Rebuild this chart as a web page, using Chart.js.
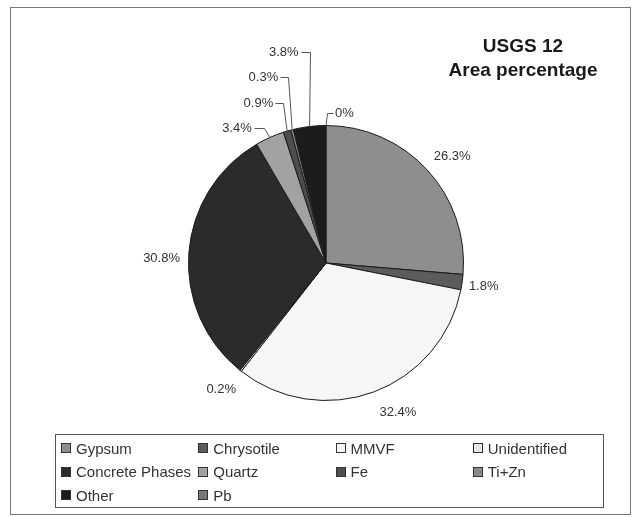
<!DOCTYPE html>
<html>
<head>
<meta charset="utf-8">
<script src="https://cdn.jsdelivr.net/npm/chart.js@4.4.1/dist/chart.umd.min.js"></script>
<style>
  html, body { margin: 0; padding: 0; background: #ffffff; }
  #wrap { position: relative; width: 633px; height: 517px; overflow: hidden; }
  #frame { position: absolute; left: 10px; top: 7px; width: 621px; height: 508px;
           border: 1px solid #777; box-sizing: border-box; }
  #c { position: absolute; left: 0; top: 0; }
  #legend { position: absolute; left: 55px; top: 434px; width: 549px; height: 74px;
            border: 1px solid #555; box-sizing: border-box;
            font: 15px "Liberation Sans", Arial, sans-serif; color: #333; }
  .item { position: absolute; height: 20px; display: flex; align-items: center; white-space: nowrap; }
  .sw { width: 8px; height: 8px; border: 1px solid #333; margin-right: 5px; flex: none; }
</style>
</head>
<body>
<div id="wrap">
  <div id="frame"></div>
  <canvas id="c" width="633" height="517"></canvas>
  <div id="legend"></div>
</div>
<script>
// Phase composition by area
const categories = ['Gypsum', 'Chrysotile', 'MMVF', 'Unidentified', 'Concrete Phases',
                    'Quartz', 'Fe', 'Ti+Zn', 'Other', 'Pb'];
const areaPercent = [26.3, 1.8, 32.4, 0.2, 30.8, 3.4, 0.9, 0.3, 3.8, 0];
const titleLines = ['USGS 12', 'Area percentage'];

// Grey fills for each phase
const sliceColors = ['#8e8e8e', '#5c5c5c', '#f6f6f6', '#e6e6e6', '#2b2b2b',
                     '#a2a2a2', '#4d4d4d', '#8a8a8a', '#1c1c1c', '#7a7a7a'];

// Label placement: free labels sit outside the rim, thin slices get a leader line
const labelGap = [28, 22, 28, 27, 27];          // px beyond the rim
const labelNudge = [2.3, 0.6, -5.4, 1.2, -2.5];  // degrees along the rim
const leaders = {
  5: { lean: -6, rise: 9.5, arm: 10, side: -1 },
  6: { lean: -4, rise: 28, arm: 8, side: -1 },
  7: { lean: -4, rise: 52.5, arm: 8, side: -1 },
  8: { lean: 0, rise: 74, arm: 9, side: -1 },
  9: { lean: 1, rise: 12.5, arm: 6, side: 1 }
};

const px = v => Math.round(v) + 0.5;

const sliceLabels = {
  id: 'sliceLabels',
  afterDatasetsDraw(chart) {
    const ctx = chart.ctx;
    const meta = chart.getDatasetMeta(0);
    ctx.save();
    ctx.font = '13px "Liberation Sans", Arial, sans-serif';
    ctx.fillStyle = '#333';
    ctx.strokeStyle = '#555';
    ctx.lineWidth = 1;
    ctx.textBaseline = 'middle';
    meta.data.forEach((arc, i) => {
      const p = arc.getProps(['x', 'y', 'startAngle', 'endAngle', 'outerRadius'], true);
      const mid = (p.startAngle + p.endAngle) / 2;
      const text = areaPercent[i] + '%';
      const lead = leaders[i];
      if (lead) {
        const ax = p.x + Math.cos(mid) * p.outerRadius;
        const ay = p.y + Math.sin(mid) * p.outerRadius;
        const ex = ax + lead.lean, ey = ay - lead.rise;
        const hx = ex + lead.side * lead.arm;
        ctx.beginPath();
        ctx.moveTo(ax, ay);
        ctx.lineTo(px(ex), px(ey));
        ctx.lineTo(px(hx), px(ey));
        ctx.stroke();
        ctx.textAlign = lead.side < 0 ? 'right' : 'left';
        ctx.fillText(text, hx + lead.side * 2, ey);
      } else {
        const a = mid + labelNudge[i] * Math.PI / 180;
        const d = p.outerRadius + labelGap[i];
        ctx.textAlign = 'center';
        ctx.fillText(text, p.x + Math.cos(a) * d, p.y + Math.sin(a) * d);
      }
    });
    ctx.restore();
  }
};

const cornerTitle = {
  id: 'cornerTitle',
  afterDraw(chart) {
    const ctx = chart.ctx;
    ctx.save();
    ctx.font = 'bold 19px "Liberation Sans", Arial, sans-serif';
    ctx.fillStyle = '#1a1a1a';
    ctx.textAlign = 'center';
    ctx.textBaseline = 'middle';
    titleLines.forEach((t, k) => ctx.fillText(t, 523, 47 + k * 24));
    ctx.restore();
  }
};

new Chart(document.getElementById('c'), {
  type: 'pie',
  data: {
    labels: categories,
    datasets: [{
      data: areaPercent,
      backgroundColor: sliceColors,
      borderColor: '#1a1a1a',
      borderWidth: 1
    }]
  },
  options: {
    responsive: false,
    animation: false,
    layout: { padding: { left: 188, right: 169, top: 125, bottom: 116 } },
    plugins: {
      legend: { display: false },
      tooltip: { enabled: false },
      title: { display: false }
    }
  },
  plugins: [sliceLabels, cornerTitle]
});

// Four-column legend box
const legendEl = document.getElementById('legend');
categories.forEach((name, i) => {
  const col = i % 4, row = Math.floor(i / 4);
  const item = document.createElement('div');
  item.className = 'item';
  item.style.left = (5 + col * 137.25) + 'px';
  item.style.top = (3 + row * 23.5) + 'px';
  const sw = document.createElement('span');
  sw.className = 'sw';
  sw.style.background = sliceColors[i];
  const label = document.createElement('span');
  label.textContent = name;
  item.appendChild(sw);
  item.appendChild(label);
  legendEl.appendChild(item);
});
</script>
</body>
</html>
